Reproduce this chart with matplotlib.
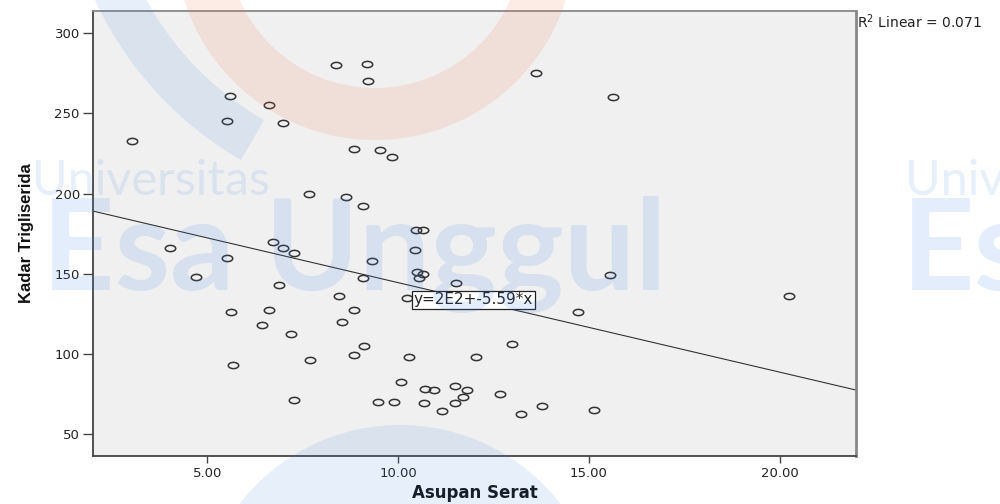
import numpy as np
import matplotlib.pyplot as plt
from matplotlib.path import Path
from matplotlib.transforms import Affine2D
from matplotlib.patches import Wedge, Circle

# data
asupan_serat = [3.01, 5.52, 5.60, 6.61, 6.97, 8.38, 9.18, 9.21, 13.61, 15.64,
                8.83, 9.53, 9.83, 7.65, 8.64, 9.07, 10.47, 10.64, 4.01, 6.72,
                6.98, 7.27, 5.51, 9.31, 10.45, 4.69, 6.88, 9.07, 10.49, 10.66,
                10.55, 11.51, 15.54, 20.24, 8.45, 10.24, 5.61, 6.61, 8.85, 8.52,
                6.42, 7.18, 14.70, 9.11, 8.85, 7.68, 5.68, 10.28, 12.04, 12.97,
                10.08, 10.71, 10.93, 11.50, 11.81, 11.71, 12.68, 7.27, 9.48, 9.90,
                10.68, 11.50, 11.15, 13.21, 13.78, 15.12]
kadar_trigliserida = [233, 245, 261, 255, 244, 280, 281, 270, 275, 260,
                      228, 227, 223, 200, 198, 192, 177, 177, 166, 170,
                      166, 163, 160, 158, 165, 148, 143, 147, 151, 150,
                      147, 144, 149, 136, 136, 135, 126, 127, 127, 120,
                      118, 112, 126, 105, 99, 96, 93, 98, 98, 106,
                      82, 78, 77, 80, 77, 73, 75, 71, 70, 70,
                      69, 69, 64, 62, 67, 65]
intercept = 200.2
slope = -5.59
r_squared = 0.071
x_ticks = [5, 10, 15, 20]
y_ticks = [50, 100, 150, 200, 250, 300]

fig = plt.figure(figsize=(10, 5.04), dpi=100)
ax = fig.add_axes([0.093, 0.0952, 0.763, 0.8829])
ax.set_facecolor('#f0f0f0')
ax.set_xlim(2.0, 22.0)
ax.set_ylim(36, 314)

# open circle markers, a bit flattened like in SPSS output
oval = Path.unit_circle().transformed(Affine2D().scale(1.0, 0.6))
ax.plot(asupan_serat, kadar_trigliserida, linestyle='none', marker=oval,
        markersize=7.5, markerfacecolor='none', markeredgecolor='#333333',
        markeredgewidth=1.1, zorder=3)

# fit line
xl = np.array(ax.get_xlim())
ax.plot(xl, intercept + slope * xl, color='#333333', lw=0.8, zorder=2)
ax.text(11.97, 133.5, 'y=2E2+-5.59*x', ha='center', va='center',
        fontsize=11, family='DejaVu Sans', color='#222222', zorder=4,
        bbox=dict(boxstyle='square,pad=0.12', facecolor='white',
                  edgecolor='#222222', linewidth=0.9))

ax.set_xticks(x_ticks)
ax.set_xticklabels(['%.2f' % v for v in x_ticks])
ax.set_yticks(y_ticks)
ax.tick_params(axis='x', length=5, width=1, colors='#444444', labelsize=9.5,
               labelcolor='#222222', pad=3)
ax.tick_params(axis='y', length=7.5, width=1, colors='#444444', labelsize=9.5,
               labelcolor='#222222', pad=2)

ax.spines['left'].set_color('#444444')
ax.spines['bottom'].set_color('#444444')
ax.spines['top'].set_color('#888888')
ax.spines['right'].set_color('#888888')
for s in ['left', 'bottom', 'top']:
    ax.spines[s].set_linewidth(1.3)
ax.spines['right'].set_linewidth(2)

ax.set_xlabel('Asupan Serat', fontsize=12, fontweight='bold',
              family='DejaVu Sans', labelpad=3, color='#111111')
ax.set_ylabel('Kadar Trigliserida', fontsize=12, fontweight='bold',
              family=['Liberation Sans Narrow', 'Liberation Sans'],
              labelpad=15, color='#111111')

fig.text(0.857, 0.976, 'R$^2$ Linear = %.3f' % r_squared, ha='left', va='top',
         fontsize=10, family='DejaVu Sans', color='#222222')

# faint watermark of the source
wm = fig.add_axes([0, 0, 1, 1], zorder=10)
wm.set_xlim(0, 1000)
wm.set_ylim(504, 0)
wm.axis('off')
wm.patch.set_alpha(0)
blue = (0.25, 0.5, 0.9)
orange = (0.95, 0.45, 0.3)
wm.add_patch(Wedge((375, -60), 200, 0, 180, width=52, facecolor=orange,
                   edgecolor='none', alpha=0.14))
wm.add_patch(Wedge((420, -150), 358, 120, 160, width=46, facecolor=blue,
                   edgecolor='none', alpha=0.12))
wm.add_patch(Circle((400, 628), 203, facecolor=blue, edgecolor='none',
                    alpha=0.12))
wm.text(32, 195, 'Universitas', fontsize=35, family='Lato',
        color=blue, alpha=0.12, va='baseline')
wm.text(42, 290, 'Esa Unggul', fontsize=91, fontweight='bold', family='Lato',
        color=blue, alpha=0.14, va='baseline')
wm.text(905, 195, 'Univ', fontsize=35, family='Lato',
        color=blue, alpha=0.12, va='baseline')
wm.text(902, 290, 'Es', fontsize=91, fontweight='bold', family='Lato',
        color=blue, alpha=0.14, va='baseline')

fig.savefig('out.png', dpi=100)
